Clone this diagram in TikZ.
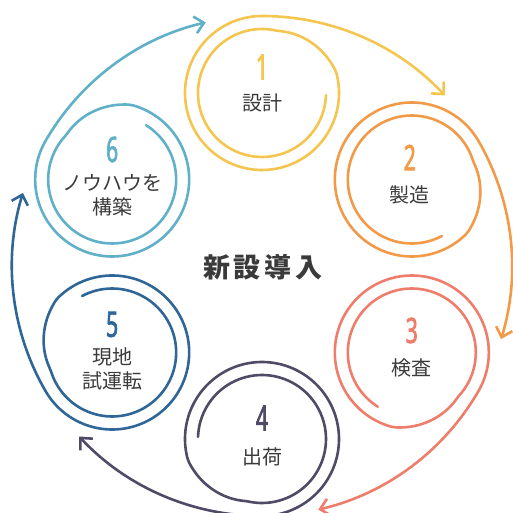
\documentclass[tikz,border=0pt]{standalone}
\usepackage{fontspec}
\usepackage{tikz}
\usetikzlibrary{arrows.meta}

\newfontfamily\jpfont{Noto Sans CJK JP}
\newfontfamily\numfont[FakeStretch=0.6,FakeBold=2]{Noto Sans}

\definecolor{step1}{HTML}{F4C650}
\definecolor{step2}{HTML}{F29A48}
\definecolor{step3}{HTML}{EF7D6B}
\definecolor{step4}{HTML}{514A66}
\definecolor{step5}{HTML}{2F6698}
\definecolor{step6}{HTML}{5FB0C8}
\definecolor{txtgray}{HTML}{3A3A3A}

\begin{document}
\begin{tikzpicture}[x=1pt,y=1pt,>={Straight Barb[length=9pt,width=17pt]},
	declare function={sr(\t)=64+13*min(1,max(0,(\t-282)/60));}]
	\tikzstyle{ring} = [line width=2.6pt, line cap=round, line join=round]
	\tikzstyle{numtxt} = [font=\numfont\fontsize{35}{35}\selectfont, inner sep=0pt]
	\tikzstyle{labtxt} = [font=\jpfont\fontsize{20}{24}\selectfont, text=txtgray, align=center, inner sep=0pt]

	\useasboundingbox (-262,-247) rectangle (251,266);

	% step centres
	\coordinate (n1) at (90:173);
	\coordinate (n2) at (30:173);
	\coordinate (n3) at (-30:173);
	\coordinate (n4) at (-90:173);
	\coordinate (n5) at (-150:173);
	\coordinate (n6) at (150:173);

	% where each ring leaves for the next step
	\coordinate (o1) at (90:250);
	\coordinate (o2) at (30:250);
	\coordinate (o3) at (-30:250);
	\coordinate (o4) at (-90:250);
	\coordinate (o5) at (-150:250);
	\coordinate (o6) at (150:250);

	\node[font=\jpfont\bfseries\fontsize{27}{27}\selectfont, text=txtgray] (core) at (1,-1) {新\kern4pt 設\kern4pt 導\kern4pt 入};

	% rings
	\draw[ring, step1, shift={(n1)}, rotate=0] plot[domain=0:628, samples=180, smooth] ({sr(\x)*cos(-2-\x)}, {sr(\x)*sin(-2-\x)});
	\draw[ring, step2, shift={(n2)}, rotate=-60] plot[domain=0:628, samples=180, smooth] ({sr(\x)*cos(-2-\x)}, {sr(\x)*sin(-2-\x)});
	\draw[ring, step3, shift={(n3)}, rotate=-120] plot[domain=0:628, samples=180, smooth] ({sr(\x)*cos(-2-\x)}, {sr(\x)*sin(-2-\x)});
	\draw[ring, step4, shift={(n4)}, rotate=-180] plot[domain=0:628, samples=180, smooth] ({sr(\x)*cos(-2-\x)}, {sr(\x)*sin(-2-\x)});
	\draw[ring, step5, shift={(n5)}, rotate=-240] plot[domain=0:628, samples=180, smooth] ({sr(\x)*cos(-2-\x)}, {sr(\x)*sin(-2-\x)});
	\draw[ring, step6, shift={(n6)}, rotate=-300] plot[domain=0:628, samples=180, smooth] ({sr(\x)*cos(-2-\x)}, {sr(\x)*sin(-2-\x)});

	% arrows to the next step
	\draw[ring, step1, ->] (o1) arc[start angle=90, end angle=43, radius=250];
	\draw[ring, step2, ->] (o2) arc[start angle=30, end angle=-17, radius=250];
	\draw[ring, step3, ->] (o3) arc[start angle=-30, end angle=-77, radius=250];
	\draw[ring, step4, ->] (o4) arc[start angle=-90, end angle=-137, radius=250];
	\draw[ring, step5, ->] (o5) arc[start angle=-150, end angle=-197, radius=250];
	\draw[ring, step6, ->] (o6) arc[start angle=150, end angle=103, radius=250];

	% texts
	\node[numtxt, text=step1, yshift=26pt] (num1) at (n1) {1};
	\node[labtxt, yshift=-10pt] (lab1) at (n1) {設計};
	\node[numtxt, text=step2, yshift=22pt, xshift=-2pt] (num2) at (n2) {2};
	\node[labtxt, yshift=-15pt, xshift=-2pt] (lab2) at (n2) {製造};
	\node[numtxt, text=step3, yshift=22pt] (num3) at (n3) {3};
	\node[labtxt, yshift=-15pt] (lab3) at (n3) {検査};
	\node[numtxt, text=step4, yshift=21pt] (num4) at (n4) {4};
	\node[labtxt, yshift=-18pt] (lab4) at (n4) {出荷};
	\node[numtxt, text=step5, yshift=28pt] (num5) at (n5) {5};
	\node[labtxt, yshift=-16pt] (lab5) at (n5) {現地\\試運転};
	\node[numtxt, text=step6, yshift=30pt] (num6) at (n6) {6};
	\node[labtxt, yshift=-16pt] (lab6) at (n6) {ノウハウを\\構築};
\end{tikzpicture}
\end{document}
